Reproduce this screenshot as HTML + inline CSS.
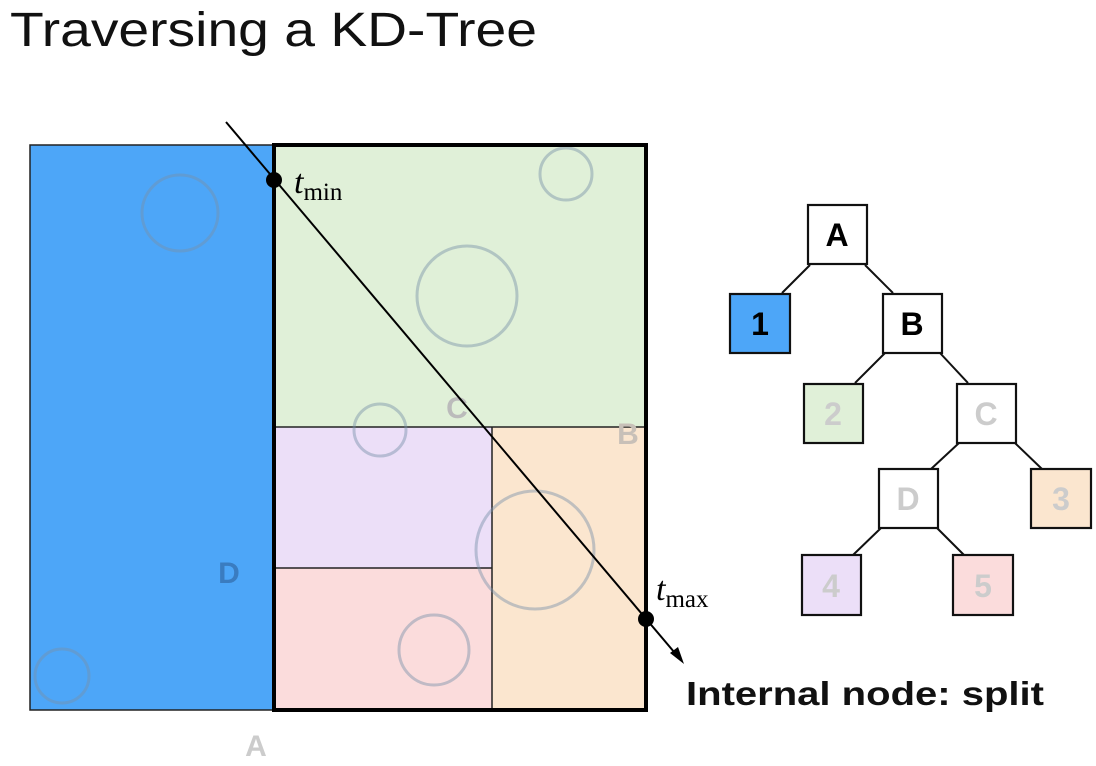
<!DOCTYPE html>
<html><head><meta charset="utf-8"><style>
html,body{margin:0;padding:0;background:#fff;width:1096px;height:766px;overflow:hidden}
svg{display:block}
text{font-family:"Liberation Sans",sans-serif}
text.serif{font-family:"Liberation Serif",serif}
</style></head><body>
<svg width="1096" height="766" viewBox="0 0 1096 766">
<text x="10" y="46" font-size="48" fill="#111" textLength="527" lengthAdjust="spacingAndGlyphs">Traversing a KD-Tree</text>
<g>
<rect x="30" y="145" width="244" height="565" fill="#4da6f8" stroke="#222" stroke-width="1.5"/>
<rect x="274" y="145" width="372" height="282" fill="#e0f0d8"/>
<rect x="274" y="427" width="218" height="141" fill="#ecdff8"/>
<rect x="274" y="568" width="218" height="142" fill="#fbdcdc"/>
<rect x="492" y="427" width="154" height="283" fill="#fbe6cf"/>
<line x1="274" y1="427" x2="646" y2="427" stroke="#222" stroke-width="1.5"/>
<line x1="492" y1="427" x2="492" y2="710" stroke="#222" stroke-width="1.5"/>
<line x1="274" y1="568" x2="492" y2="568" stroke="#222" stroke-width="1.5"/>
<g fill="none" stroke="#7890a8" stroke-opacity="0.45" stroke-width="3">
<circle cx="180" cy="213" r="38"/><circle cx="467" cy="296" r="50"/><circle cx="566" cy="174" r="26"/>
<circle cx="380" cy="430" r="26"/><circle cx="535" cy="550" r="59"/><circle cx="434" cy="650" r="35"/><circle cx="62" cy="676" r="27"/>
</g>
<rect x="274" y="145" width="372" height="565" fill="none" stroke="#000" stroke-width="4"/>
<text x="457" y="418" font-size="30" font-weight="bold" fill="#bbb" text-anchor="middle">C</text>
<text x="628" y="444" font-size="30" font-weight="bold" fill="#c8c0b8" text-anchor="middle">B</text>
<text x="229" y="583" font-size="30" font-weight="bold" fill="#3a7cc0" text-anchor="middle">D</text>
<text x="256" y="756" font-size="30" font-weight="bold" fill="#ccc" text-anchor="middle">A</text>
</g>
<g>
<line x1="226" y1="122" x2="680" y2="659" stroke="#000" stroke-width="2"/>
<polygon points="684,664 670,653 678,647" fill="#000"/>
<circle cx="274" cy="180" r="8" fill="#000"/>
<circle cx="646" cy="619" r="8" fill="#000"/>
<text class="serif" x="294" y="193" font-size="34" font-style="italic">t<tspan font-style="normal" font-size="25" dy="7">min</tspan></text>
<text class="serif" x="656" y="600" font-size="34" font-style="italic">t<tspan font-style="normal" font-size="25" dy="7">max</tspan></text>
</g>
<text x="686" y="705" font-size="33" font-weight="bold" fill="#111" textLength="358" lengthAdjust="spacingAndGlyphs">Internal node: split</text>
<g stroke="#111" stroke-width="2">
<line x1="810" y1="265" x2="782" y2="293"/><line x1="865" y1="265" x2="893" y2="293"/>
<line x1="885" y1="353" x2="855" y2="383"/><line x1="940" y1="353" x2="968" y2="383"/>
<line x1="959" y1="443" x2="931" y2="469"/><line x1="1015" y1="443" x2="1042" y2="469"/>
<line x1="881" y1="528" x2="853" y2="555"/><line x1="937" y1="528" x2="964" y2="555"/>
<g stroke-width="2.2" font-size="32" font-weight="bold" text-anchor="middle">
<rect x="808" y="205" width="59" height="59" fill="#fff"/>
<text x="837" y="246" stroke="none" fill="#000">A</text>
<rect x="730" y="294" width="60" height="59" fill="#4da6f8"/>
<text x="760" y="335" stroke="none" fill="#000">1</text>
<rect x="883" y="294" width="59" height="59" fill="#fff"/>
<text x="912" y="335" stroke="none" fill="#000">B</text>
<rect x="804" y="384" width="59" height="59" fill="#e0f0d8"/>
<text x="833" y="425" stroke="none" fill="#ccc">2</text>
<rect x="957" y="384" width="59" height="59" fill="#fff"/>
<text x="986" y="425" stroke="none" fill="#ccc">C</text>
<rect x="879" y="469" width="59" height="59" fill="#fff"/>
<text x="908" y="510" stroke="none" fill="#ccc">D</text>
<rect x="1031" y="469" width="60" height="59" fill="#fbe6cf"/>
<text x="1061" y="510" stroke="none" fill="#ccc">3</text>
<rect x="802" y="555" width="59" height="60" fill="#ecdff8"/>
<text x="831" y="597" stroke="none" fill="#ccc">4</text>
<rect x="953" y="555" width="60" height="60" fill="#fbdcdc"/>
<text x="983" y="597" stroke="none" fill="#ccc">5</text>
</g></g>
</svg>
</body></html>
